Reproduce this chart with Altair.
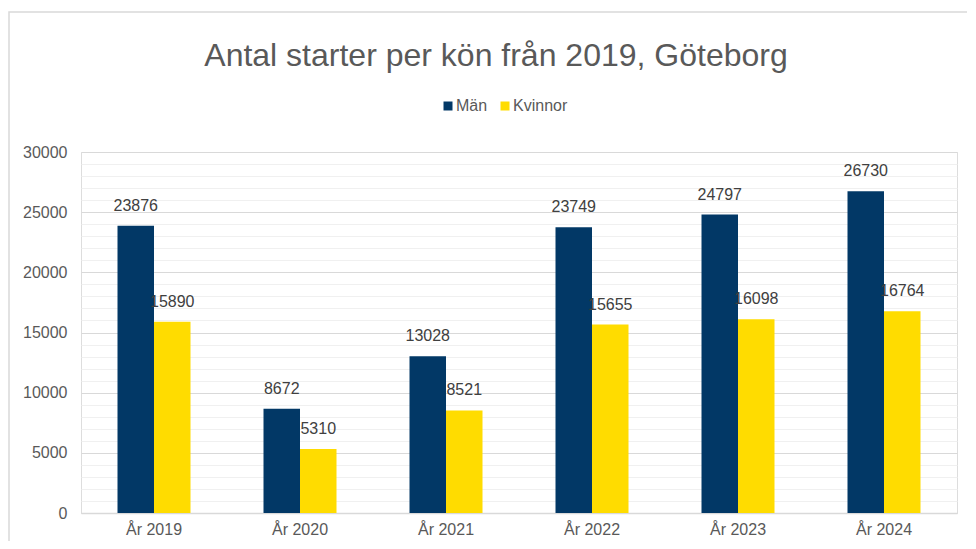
import altair as alt
import pandas as pd

years = ["År 2019", "År 2020", "År 2021", "År 2022", "År 2023", "År 2024"]
men = [23876, 8672, 13028, 23749, 24797, 26730]
women = [15890, 5310, 8521, 15655, 16098, 16764]
series = ["Män", "Kvinnor"]
colors = ["#023866", "#ffdc00"]
y_ticks = list(range(0, 30001, 1000))

rows = []
for i, yr in enumerate(years):
    rows.append({"year": yr, "kon": "Män", "value": men[i]})
    rows.append({"year": yr, "kon": "Kvinnor", "value": women[i]})
df = pd.DataFrame(rows)

FONT = "Liberation Sans"

x = alt.X(
    "year:N", sort=years, title=None,
    scale=alt.Scale(paddingInner=0.5, paddingOuter=0.25),
    axis=alt.Axis(labelAngle=0, labelFontSize=16, labelColor="#595959", labelPadding=8,
                  ticks=False, domainColor="#d9d9d9", domainWidth=1.5, labelFont=FONT),
)
xo = alt.XOffset("kon:N", sort=series)
y = alt.Y(
    "value:Q", title=None,
    scale=alt.Scale(domain=[0, 30000], nice=False),
    axis=alt.Axis(
        values=y_ticks, format="d",
        labelExpr="datum.value % 5000 === 0 ? datum.label : ''",
        gridColor={"condition": {"test": "datum.value % 5000 === 0", "value": "#d9d9d9"},
                   "value": "#f0f0f0"},
        gridWidth=1.2,
        domain=False, ticks=False, labelFontSize=16, labelColor="#595959",
        labelPadding=14, labelFont=FONT,
    ),
)

base = alt.Chart(df)

bars = base.mark_bar().encode(
    x=x, xOffset=xo, y=y,
    color=alt.Color(
        "kon:N", sort=series,
        scale=alt.Scale(domain=series, range=colors),
        legend=alt.Legend(title=None, orient="none", legendX=359, legendY=-54,
                          direction="horizontal", symbolType="square", symbolSize=81,
                          symbolStrokeWidth=0, labelFontSize=16, labelColor="#595959",
                          columnPadding=9, labelOffset=0, labelFont=FONT),
    ),
)

labels = base.mark_text(dy=-15, baseline="alphabetic", fontSize=16, color="#404040",
                        font=FONT).encode(
    x=x, xOffset=xo, y=y, text=alt.Text("value:Q", format="d"),
)

border = alt.Chart(pd.DataFrame({"a": [0]})).mark_rect(
    fill="transparent", stroke="#d9d9d9", strokeWidth=1.5
).encode(x=alt.value(-72), x2=alt.value(1000), y=alt.value(-140), y2=alt.value(600))

chart = alt.layer(border, bars, labels).properties(
    width=876, height=361,
    autosize=alt.AutoSizeParams(type="none"),
    padding={"left": 73, "top": 144, "right": 10, "bottom": 28},
    title=alt.Title("Antal starter per kön från 2019, Göteborg", fontSize=32,
                    color="#595959", font=FONT, fontWeight="normal",
                    anchor="middle", dx=-23, offset=-62),
).configure_view(stroke=None).configure(font=FONT)

chart.save("out.html", embed_options={"renderer": "svg", "actions": False})
